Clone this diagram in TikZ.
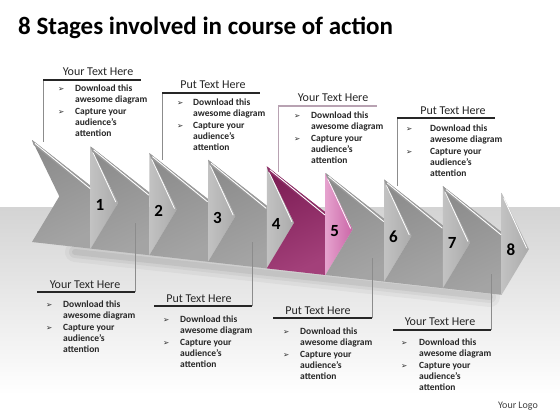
\documentclass[tikz,border=0pt]{standalone}
\usepackage{fontspec}
\setmainfont{Carlito}
\newfontfamily\dejavu{DejaVu Sans}
\usetikzlibrary{calc}
\definecolor{gbodyT}{HTML}{8C8C8C}
\definecolor{gbodyB}{HTML}{A4A4A4}
\definecolor{gwedgeL}{HTML}{C2C2C2}
\definecolor{gwedgeR}{HTML}{ABABAB}
\definecolor{gbevel}{HTML}{9A9A9A}
\definecolor{pbodyT}{HTML}{7E1E56}
\definecolor{pbodyB}{HTML}{A3407A}
\definecolor{pwedgeL}{HTML}{E5A2CE}
\definecolor{pwedgeR}{HTML}{CB66A7}
\definecolor{pbevel}{HTML}{8E2F67}
\definecolor{mauve}{HTML}{B8A2B2}
\newcommand{\stagearrow}[6]{%
  \pgfmathsetmacro{\ax}{32+58.7*(#1-1)}%
  \pgfmathsetmacro{\ay}{140+6.6*(#1-1)}%
  \pgfmathsetmacro{\bx}{\ax+58.7}%
  \pgfmathsetmacro{\by}{\ay+6.6}%
  \coordinate (a#1) at (\ax,\ay);
  \coordinate (b#1) at (\bx,\ay+46);
  \coordinate (c#1) at (\ax,\ay+102);
  \coordinate (n#1) at (\ax+27.3,\ay+56.4);
  \coordinate (w#1) at (\bx,\by);
  \coordinate (t#1) at (\bx+27.3,\by+56.4);
  \coordinate (v#1) at (\bx,\by+102);
  \shade[shading=axis,top color=#2,bottom color=#3,shading angle=25] (a#1)--(b#1)--(v#1)--(c#1)--(n#1)--cycle;
  \fill[#6] (a#1)--(b#1)--($(b#1)+(0,5)$)--($(a#1)+(1.5,5)$)--cycle;
  \shade[left color=#4,right color=#5] (w#1)--(t#1)--(v#1)--cycle;
  \draw[white,line width=0.9pt] ($(a#1)+(3,3.4)$)--($(b#1)+(-0.5,2.6)$);
  \draw[white,line width=0.8pt] ($(w#1)+(2.2,5.5)$)--($(t#1)+(-2.2,-1)$);
}
\newcommand{\callbody}[4]{%
  \node[bul] (#1p1) at (#2,#4) {➢};
  \node[bul] (#1p2) at (#2,#4+22.8) {➢};
  \node[txt] (#1l1) at (#3,#4) {Download this};
  \node[txt] (#1l2) at (#3,#4+11.4) {awesome diagram};
  \node[txt] (#1l3) at (#3,#4+22.8) {Capture your};
  \node[txt] (#1l4) at (#3,#4+34.2) {audience’s};
  \node[txt] (#1l5) at (#3,#4+45.6) {attention};
}
\tikzset{
  uline/.style={draw=black!85,line width=1.1pt},
  vline/.style={draw=black!45,line width=0.5pt},
  ttl/.style={font=\fontsize{12}{14}\selectfont,text=black!85,inner sep=0,text height=8pt,text depth=0.5pt,anchor=center},
  txt/.style={font=\bfseries\fontsize{9.5}{11}\selectfont,text=black!85,inner sep=0,anchor=west,text height=7pt,text depth=2.3pt},
  bul/.style={font=\dejavu\fontsize{7.5}{8}\selectfont,text=black!85,inner sep=0,anchor=west,text height=5pt,text depth=0pt},
  num/.style={font=\bfseries\fontsize{17}{20}\selectfont,text=black,inner sep=0},
}
\begin{document}
\begin{tikzpicture}[x=1pt,y=-1pt]
\useasboundingbox (0,0) rectangle (560,420);
\fill[white] (0,0) rectangle (560,420);
\shade[top color=black!17,bottom color=white] (0,207) rectangle (560,395);
% title
\node[font=\bfseries\fontsize{25}{30}\selectfont,anchor=west,inner sep=0] (title) at (18,28) {8 Stages involved in course of action};
% top callout lines
\coordinate (t1u1) at (43,80);  \coordinate (t1u2) at (141,80);  \coordinate (t1d) at (43,142);
\coordinate (t2u1) at (162,93); \coordinate (t2u2) at (260,93);  \coordinate (t2d) at (162,160);
\coordinate (t3u1) at (278,106);\coordinate (t3u2) at (377,106); \coordinate (t3d) at (278,172);
\coordinate (t4u1) at (397,118);\coordinate (t4u2) at (495,118); \coordinate (t4d) at (397,186);
\draw[vline] (t1u1)--(t1d);
\draw[vline] (t2u1)--(t2d);
\draw[vline,draw=mauve] (t3u1)--(t3d);
\draw[vline] (t4u1)--(t4d);
\draw[uline] (t1u1)--(t1u2);
\draw[uline] (t2u1)--(t2u2);
\draw[uline,draw=mauve] (t3u1)--(t3u2);
\draw[uline] (t4u1)--(t4u2);
% shadow
\foreach \w/\o in {20/0.035,12/0.045,6/0.06}
  \draw[line width=\w pt,black,opacity=\o,line cap=round] (75,252)--(490,297);
% arrows
\stagearrow{1}{gbodyT}{gbodyB}{gwedgeL}{gwedgeR}{gbevel}
\stagearrow{2}{gbodyT}{gbodyB}{gwedgeL}{gwedgeR}{gbevel}
\stagearrow{3}{gbodyT}{gbodyB}{gwedgeL}{gwedgeR}{gbevel}
\stagearrow{4}{gbodyT}{gbodyB}{gwedgeL}{gwedgeR}{gbevel}
\stagearrow{5}{pbodyT}{pbodyB}{pwedgeL}{pwedgeR}{pbevel}
\stagearrow{6}{gbodyT}{gbodyB}{gwedgeL}{gwedgeR}{gbevel}
\stagearrow{7}{gbodyT}{gbodyB}{gwedgeL}{gwedgeR}{gbevel}
\stagearrow{8}{gbodyT}{gbodyB}{gwedgeL}{gwedgeR}{gbevel}
% numbers
\foreach \k in {1,...,8}
  \node[num] (num\k) at ({100+58.7*(\k-1)},{205+6.4*(\k-1)}) {\k};
% bottom callout lines
\coordinate (b1u1) at (37,292);  \coordinate (b1u2) at (135,292); \coordinate (b1d) at (135,223);
\coordinate (b2u1) at (154,306); \coordinate (b2u2) at (252,306); \coordinate (b2d) at (252,242);
\coordinate (b3u1) at (273,318); \coordinate (b3u2) at (372,318); \coordinate (b3d) at (372,258);
\coordinate (b4u1) at (393,330); \coordinate (b4u2) at (491,330); \coordinate (b4d) at (491,274);
\draw[vline] (b1u2)--(b1d);
\draw[vline] (b2u2)--(b2d);
\draw[vline] (b3u2)--(b3d);
\draw[vline] (b4u2)--(b4d);
\draw[uline] (b1u1)--(b1u2);
\draw[uline] (b2u1)--(b2u2);
\draw[uline] (b3u1)--(b3u2);
\draw[uline] (b4u1)--(b4u2);
% titles
\node[ttl] (t1t) at (98,72) {Your Text Here};
\node[ttl] (t2t) at (213,85) {Put Text Here};
\node[ttl] (t3t) at (333,98) {Your Text Here};
\node[ttl] (t4t) at (453,111) {Put Text Here};
\node[ttl] (b1t) at (85,285) {Your Text Here};
\node[ttl] (b2t) at (199,299) {Put Text Here};
\node[ttl] (b3t) at (318,311) {Put Text Here};
\node[ttl] (b4t) at (440,322) {Your Text Here};
% bodies
\callbody{t1}{58}{75}{89}
\callbody{t2}{177}{193}{103}
\callbody{t3}{294}{311}{116}
\callbody{t4}{406}{430}{129}
\callbody{b1}{46}{63}{305}
\callbody{b2}{163}{180}{320}
\callbody{b3}{283}{300}{332}
\callbody{b4}{401}{419}{343}
\node[font=\fontsize{10}{12}\selectfont,text=black!75,inner sep=0] (logo) at (518,406) {Your Logo};
\end{tikzpicture}
\end{document}
